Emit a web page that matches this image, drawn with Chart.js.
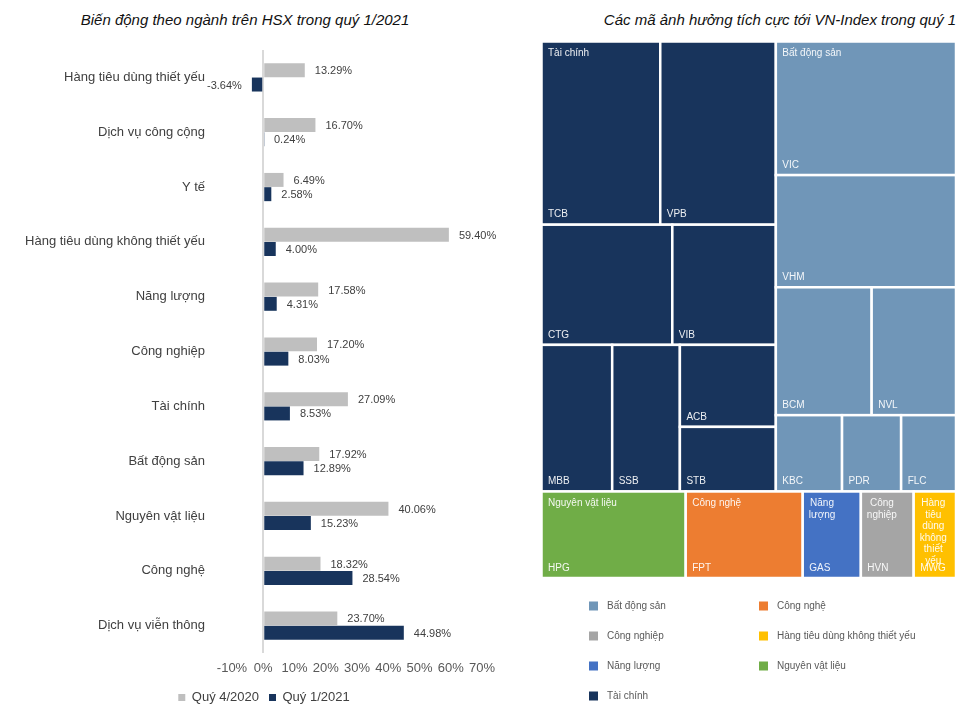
<!DOCTYPE html>
<html>
<head>
<meta charset="utf-8">
<script src="https://cdn.jsdelivr.net/npm/chart.js@4.4.0/dist/chart.umd.min.js"></script>
<style>
  html, body { margin: 0; padding: 0; background: #fff; }
  body { width: 974px; height: 714px; position: relative; overflow: hidden; font-family: 'Liberation Sans', Arial, sans-serif; }
  .title { position: absolute; top: 11px; font-size: 15px; font-style: italic; color: #111; white-space: nowrap; transform: translateX(-50%); }
  #leftBox { position: absolute; left: 0; top: 0; width: 528px; height: 714px; }
  #rightBox { position: absolute; left: 530px; top: 0; width: 444px; height: 714px; }
</style>
</head>
<body>
<div class="title" style="left:245px">Biến động theo ngành trên HSX trong quý 1/2021</div>
<div class="title" style="left:780px">Các mã ảnh hưởng tích cực tới VN-Index trong quý 1</div>
<div id="leftBox"><canvas id="sectorChart"></canvas></div>
<div id="rightBox"><canvas id="treemapChart"></canvas></div>
<script>
const FONT = "'Liberation Sans', Arial, sans-serif";

// left chart: sector change (%)
const categories = [
    'Hàng tiêu dùng thiết yếu', 'Dịch vụ công cộng', 'Y tế', 'Hàng tiêu dùng không thiết yếu',
    'Năng lượng', 'Công nghiệp', 'Tài chính', 'Bất động sản', 'Nguyên vật liệu', 'Công nghệ', 'Dịch vụ viễn thông'
];
const q4_2020 = [13.29, 16.70, 6.49, 59.40, 17.58, 17.20, 27.09, 17.92, 40.06, 18.32, 23.70];
const q1_2021 = [-3.64, 0.24, 2.58, 4.00, 4.31, 8.03, 8.53, 12.89, 15.23, 28.54, 44.98];
const xTickValues = [-10, 0, 10, 20, 30, 40, 50, 60, 70];

// right chart: treemap of tickers (influence points, estimated)
const sectors = ['Tài chính', 'Bất động sản', 'Nguyên vật liệu', 'Công nghệ', 'Năng lượng', 'Công nghiệp', 'Hàng tiêu dùng không thiết yếu'];
const tickers = ['TCB', 'VPB', 'CTG', 'VIB', 'MBB', 'SSB', 'ACB', 'STB', 'VIC', 'VHM', 'BCM', 'NVL', 'KBC', 'PDR', 'FLC', 'HPG', 'FPT', 'GAS', 'HVN', 'MWG'];
const tickerSector = [0, 0, 0, 0, 0, 0, 0, 0, 1, 1, 1, 1, 1, 1, 1, 2, 3, 4, 5, 6];
const tickerPoints = [10.81, 10.52, 7.81, 6.18, 5.15, 4.93, 3.91, 3.08, 11.96, 10.04, 6.09, 5.36, 2.51, 2.24, 2.08, 6.20, 5.03, 2.50, 2.27, 1.82];
const legendOrder = ['Bất động sản', 'Công nghệ', 'Công nghiệp', 'Hàng tiêu dùng không thiết yếu', 'Năng lượng', 'Nguyên vật liệu', 'Tài chính'];

// nesting of the treemap (rows / columns alternate by level)
const groupTC = [['TCB', 'VPB'], ['CTG', 'VIB'], ['MBB', 'SSB', ['ACB', 'STB']]];
const groupBDS = ['VIC', 'VHM', ['BCM', 'NVL'], ['KBC', 'PDR', 'FLC']];
const treeLayout = [[groupTC, groupBDS], ['HPG', 'FPT', 'GAS', 'HVN', 'MWG']];

const sectorColors = ['#18345C', '#7096B8', '#70AD47', '#ED7D31', '#4472C4', '#A5A5A5', '#FFC000'];

const barLabels = {
    id: 'barLabels',
    afterDatasetsDraw(chart) {
        const ctx = chart.ctx;
        ctx.save();
        ctx.font = '11px ' + FONT;
        ctx.fillStyle = '#404040';
        ctx.textBaseline = 'middle';
        chart.data.datasets.forEach((ds, di) => {
            chart.getDatasetMeta(di).data.forEach((bar, i) => {
                const v = ds.data[i];
                const neg = v < 0;
                ctx.textAlign = neg ? 'right' : 'left';
                ctx.fillText(v.toFixed(2) + '%', bar.x + (neg ? -10 : 10), bar.y + 1);
            });
        });
        ctx.restore();
    }
};

new Chart(document.getElementById('sectorChart'), {
    type: 'bar',
    data: {
        labels: categories,
        datasets: [
            { label: 'Quý 4/2020', data: q4_2020, backgroundColor: '#BFBFBF' },
            { label: 'Quý 1/2021', data: q1_2021, backgroundColor: '#18345C' }
        ]
    },
    options: {
        indexAxis: 'y',
        responsive: true,
        maintainAspectRatio: false,
        animation: false,
        categoryPercentage: 0.52,
        barPercentage: 0.98,
        layout: { padding: { top: 50, left: 0, right: 0, bottom: 0 } },
        scales: {
            x: {
                min: -10, max: 70,
                afterBuildTicks: s => { s.ticks = xTickValues.map(v => ({ value: v })); },
                afterFit: s => { s.height = 28; s.paddingRight = 46; },
                ticks: { callback: v => v + '%', color: '#595959', font: { family: FONT, size: 13 }, padding: 8, maxRotation: 0 },
                grid: {
                    drawTicks: false,
                    lineWidth: 2,
                    color: c => (c.tick && c.tick.value === 0) ? '#D9D9D9' : 'rgba(0,0,0,0)'
                },
                border: { display: false }
            },
            y: {
                afterFit: s => { s.width = 232; },
                ticks: { color: '#404040', font: { family: FONT, size: 13 }, padding: 27 },
                grid: { display: false, drawTicks: false },
                border: { display: false }
            }
        },
        plugins: {
            legend: {
                position: 'bottom',
                labels: { boxWidth: 7, boxHeight: 7, padding: 10, color: '#404040', font: { family: FONT, size: 13 } }
            },
            tooltip: { enabled: false }
        }
    },
    plugins: [barLabels]
});

function sumNode(node) {
    if (typeof node === 'string') return tickerPoints[tickers.indexOf(node)];
    return node.reduce((s, n) => s + sumNode(n), 0);
}

function layoutNode(node, x0, y0, x1, y1, level, out) {
    if (typeof node === 'string') {
        out.push({ name: node, x0, y0, x1, y1 });
        return;
    }
    const total = sumNode(node);
    let pos = level % 2 === 0 ? y0 : x0;
    node.forEach(child => {
        const share = sumNode(child) / total;
        if (level % 2 === 0) {
            const next = pos + (y1 - y0) * share;
            layoutNode(child, x0, pos, x1, next, level + 1, out);
            pos = next;
        } else {
            const next = pos + (x1 - x0) * share;
            layoutNode(child, pos, y0, next, y1, level + 1, out);
            pos = next;
        }
    });
}

function wrapWords(ctx, text, maxW) {
    const words = text.split(' ');
    const lines = [];
    let cur = '';
    words.forEach(w => {
        const test = cur ? cur + ' ' + w : w;
        if (cur && ctx.measureText(test).width > maxW) {
            lines.push(cur);
            cur = w;
        } else {
            cur = test;
        }
    });
    if (cur) lines.push(cur);
    return lines;
}

const treemapPlugin = {
    id: 'treemap',
    afterDatasetsDraw(chart) {
        const { ctx, scales: { x, y } } = chart;
        const cells = [];
        layoutNode(treeLayout, 0, 0, 1, 1, 0, cells);
        ctx.save();
        const boxes = sectors.map(() => null);
        cells.forEach(c => {
            const idx = tickers.indexOf(c.name);
            const s = tickerSector[idx];
            const px0 = x.getPixelForValue(c.x0), px1 = x.getPixelForValue(c.x1);
            const py0 = y.getPixelForValue(c.y0), py1 = y.getPixelForValue(c.y1);
            ctx.fillStyle = sectorColors[s];
            ctx.fillRect(px0, py0, px1 - px0, py1 - py0);
            ctx.strokeStyle = '#FFFFFF';
            ctx.lineWidth = 2.5;
            ctx.strokeRect(px0, py0, px1 - px0, py1 - py0);
            const b = boxes[s];
            boxes[s] = b ? { x0: Math.min(b.x0, px0), y0: Math.min(b.y0, py0), x1: Math.max(b.x1, px1), y1: Math.max(b.y1, py1) }
                         : { x0: px0, y0: py0, x1: px1, y1: py1 };
            c.px0 = px0; c.py1 = py1;
        });
        ctx.font = '10px ' + FONT;
        ctx.fillStyle = 'rgba(255,255,255,0.92)';
        ctx.textBaseline = 'middle';
        ctx.textAlign = 'left';
        cells.forEach(c => ctx.fillText(c.name, c.px0 + 6.5, c.py1 - 10));
        boxes.forEach((b, s) => {
            if (!b) return;
            const maxW = b.x1 - b.x0 - 12;
            const lines = wrapWords(ctx, sectors[s], maxW);
            const blockW = Math.max(...lines.map(l => ctx.measureText(l).width));
            ctx.textAlign = lines.length > 1 ? 'center' : 'left';
            lines.forEach((l, i) => {
                const tx = lines.length > 1 ? b.x0 + 6 + blockW / 2 : b.x0 + 6.5;
                ctx.fillText(l, tx, b.y0 + 12 + i * 11.5);
            });
        });
        // legend
        const area = chart.chartArea;
        ctx.font = '10px ' + FONT;
        ctx.textAlign = 'left';
        legendOrder.forEach((name, i) => {
            const col = i % 2, row = Math.floor(i / 2);
            const mx = area.left + 47.5 + col * 170;
            const my = area.bottom + 28 + row * 30;
            ctx.fillStyle = sectorColors[sectors.indexOf(name)];
            ctx.fillRect(mx, my - 4.5, 9, 9);
            ctx.fillStyle = '#595959';
            ctx.fillText(name, mx + 18, my);
        });
        ctx.restore();
    }
};

new Chart(document.getElementById('treemapChart'), {
    type: 'scatter',
    data: { datasets: [{ data: [] }] },
    options: {
        responsive: true,
        maintainAspectRatio: false,
        animation: false,
        layout: { padding: { left: 11.5, right: 18, top: 41.5, bottom: 136 } },
        scales: {
            x: { type: 'linear', min: 0, max: 1, display: false },
            y: { type: 'linear', min: 0, max: 1, reverse: true, display: false }
        },
        plugins: { legend: { display: false }, tooltip: { enabled: false } }
    },
    plugins: [treemapPlugin]
});
</script>
</body>
</html>
